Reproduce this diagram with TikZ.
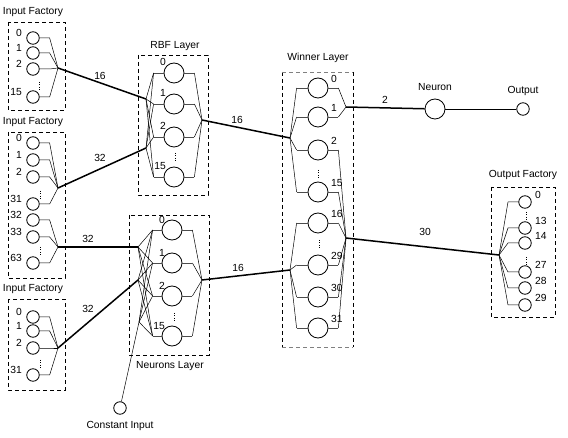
\documentclass[tikz,border=0pt]{standalone}
\usepackage{fontspec}
\setmainfont{Liberation Sans}
\begin{document}
\begin{tikzpicture}[x=1pt,y=-1pt,
  big/.style={circle,draw,minimum size=20pt,inner sep=0pt,line width=0.8pt},
  sml/.style={circle,draw,minimum size=12.5pt,inner sep=0pt,line width=0.8pt},
  frame/.style={draw,dash pattern=on 4pt off 3pt,line width=0.7pt},
  txt/.style={font=\fontsize{10.3}{12}\selectfont,inner sep=0pt},
  bus/.style={line width=1.5pt},
  wire/.style={line width=0.5pt},
  stub/.style={line width=0.9pt,black!70},
  dotsl/.style={line width=0.9pt,dash pattern=on 0.9pt off 1.6pt}
]
\useasboundingbox (0,0) rectangle (568,438);

% ---------- Input factory 1
\node[txt] (f1t) at (33,12) {Input Factory};
\draw[frame] (8,22) rectangle (65,110);
\coordinate (j1) at (58,68);
\foreach \n/\y in {0/38,1/53,2/69,15/97}{
  \node[sml] (f1c\n) at (33,\y) {};
  \node[txt,anchor=east] (f1l\n) at (22,\y-5) {\n};
  \draw[wire] (f1c\n.east) -- ++(10,0) -- (j1);
}
\draw[dotsl] (39,82) -- (39,91);

% ---------- Input factory 2
\node[txt] (f2t) at (33,122) {Input Factory};
\draw[frame] (8,132) rectangle (65,278);
\coordinate (j2a) at (58,188);
\coordinate (j2b) at (58,247);
\foreach \n/\y in {0/143,1/160,2/177,31/204}{
  \node[sml] (f2c\n) at (33,\y) {};
  \node[txt,anchor=east] (f2l\n) at (22,\y-5) {\n};
  \draw[wire] (f2c\n.east) -- ++(10,0) -- (j2a);
}
\foreach \n/\y in {32/220,33/237,63/263}{
  \node[sml] (f2c\n) at (33,\y) {};
  \node[txt,anchor=east] (f2l\n) at (22,\y-5) {\n};
  \draw[wire] (f2c\n.east) -- ++(10,0) -- (j2b);
}
\draw[dotsl] (40,191) -- (40,200);
\draw[dotsl] (40,247) -- (40,256);

% ---------- Input factory 3
\node[txt] (f3t) at (33,289) {Input Factory};
\draw[frame] (8,299) rectangle (65,390);
\coordinate (j3) at (58,348);
\foreach \n/\y in {0/317,1/331,2/348,31/375}{
  \node[sml] (f3c\n) at (33,\y) {};
  \node[txt,anchor=east] (f3l\n) at (22,\y-5) {\n};
  \draw[wire] (f3c\n.east) -- ++(10,0) -- (j3);
}
\draw[dotsl] (40,360) -- (40,369);

% ---------- RBF layer
\node[txt] (rt) at (175,46) {RBF Layer};
\draw[frame] (138,55) rectangle (208,195);
\coordinate (rj1) at (146,99);
\coordinate (rj2) at (146,148);
\coordinate (rj) at (202,120);
\foreach \n/\y in {0/73,1/104,2/137,15/177}{
  \node[big] (r\n) at (174,\y) {};
  \node[txt,anchor=east] (rlab\n) at (166,\y-11) {\n};
  \draw[stub] (r\n.west) -- ++(-10,0) coordinate (rl\n);
  \draw[stub] (r\n.east) -- ++(10,0) coordinate (rr\n);
  \draw[wire] (rj1) -- (rl\n);
  \draw[wire] (rj2) -- (rl\n);
  \draw[wire] (rr\n) -- (rj);
}
\draw[dotsl] (175,153) -- (175,162);

% ---------- Neurons layer
\node[txt] (nt) at (170,366) {Neurons Layer};
\draw[frame] (129,215) rectangle (209,355);
\coordinate (nj1) at (138,247);
\coordinate (nj2) at (138,280);
\coordinate (nj3) at (139,322);
\coordinate (nj) at (202,280);
\foreach \n/\y in {0/230,1/263,2/296,15/336}{
  \node[big] (n\n) at (172,\y) {};
  \node[txt,anchor=east] (nlab\n) at (165,\y-10) {\n};
  \draw[stub] (n\n.west) -- ++(-9,0) coordinate (nl\n);
  \draw[stub] (n\n.east) -- ++(10,0) coordinate (nr\n);
  \draw[wire] (nj1) -- (nl\n);
  \draw[wire] (nj2) -- (nl\n);
  \draw[wire] (nj3) -- (nl\n);
  \draw[wire] (nr\n) -- (nj);
}
\draw[dotsl] (174,313) -- (174,322);

% ---------- Constant input
\node[sml] (cin) at (120,408) {};
\node[txt] (cint) at (120,426) {Constant Input};
\draw[wire] (cin) -- (nj3);

% ---------- Winner layer
\node[txt] (wt) at (318,58) {Winner Layer};
\draw[dash pattern=on 4pt off 3pt,line width=0.7pt] (282,72) -- (282,347);
\draw[dash pattern=on 4pt off 3pt,line width=0.7pt] (353,72) -- (353,347);
\draw[dash pattern=on 4pt off 3pt,line width=0.9pt,black!50] (282,72) -- (353,72);
\draw[dash pattern=on 4pt off 3pt,line width=0.9pt,black!50] (282,347) -- (353,347);
\coordinate (wa) at (290,138);
\coordinate (wb) at (290,270);
\coordinate (wc) at (346,107);
\coordinate (wd) at (346,238);
\foreach \n/\y/\lj/\rj in {0/88/wa/wc,1/117/wa/wc,2/150/wa/wd,15/192/wa/wd,16/223/wb/wd,29/265/wb/wd,30/297/wb/wd,31/328/wb/wd}{
  \node[big] (w\n) at (318,\y) {};
  \node[txt,anchor=west] (wlab\n) at (331,\y-9) {\n};
  \draw[stub] (w\n.west) -- ++(-11,0) coordinate (wl\n);
  \draw[stub] (w\n.east) -- ++(10,0) coordinate (wr\n);
  \draw[wire] (\lj) -- (wl\n);
  \draw[wire] (wr\n) -- (\rj);
}
\draw[dotsl] (318,170) -- (318,178);
\draw[dotsl] (319,240) -- (319,248);

% ---------- Neuron and output
\node[big] (neu) at (435,109) {};
\node[txt] (neut) at (435,87) {Neuron};
\node[sml] (out) at (523,109) {};
\node[txt] (outt) at (523,91) {Output};
\draw[wire] (neu) -- (out);

% ---------- Output factory
\node[txt] (oft) at (523,175) {Output Factory};
\draw[frame] (491,187) rectangle (555,317);
\coordinate (oj) at (499,255);
\foreach \n/\y in {0/202,13/228,14/243,27/272,28/288,29/305}{
  \node[sml] (o\n) at (525,\y) {};
  \node[txt,anchor=west] (olab\n) at (535,\y-7) {\n};
  \draw[wire] (oj) -- ++(9,\y-255) -- (o\n.west);
}
\draw[dotsl] (526,212) -- (526,220);
\draw[dotsl] (526,257) -- (526,265);

% ---------- buses
\draw[bus] (j1) -- (rj1);
\draw[bus] (j2a) -- (rj2);
\draw[bus] (j2b) -- (nj1);
\draw[bus] (j3) -- (nj2);
\draw[bus] (rj) -- (wa);
\draw[bus] (nj) -- (wb);
\draw[bus] (wc) -- (neu);
\draw[bus] (wd) -- (oj);

\node[txt] (e1) at (100,76) {16};
\node[txt] (e2) at (100,158) {32};
\node[txt] (e3) at (88,239) {32};
\node[txt] (e4) at (88,309) {32};
\node[txt] (e5) at (237,120) {16};
\node[txt] (e6) at (238,268) {16};
\node[txt] (e7) at (385,100) {2};
\node[txt] (e8) at (425,232) {30};
\end{tikzpicture}
\end{document}
